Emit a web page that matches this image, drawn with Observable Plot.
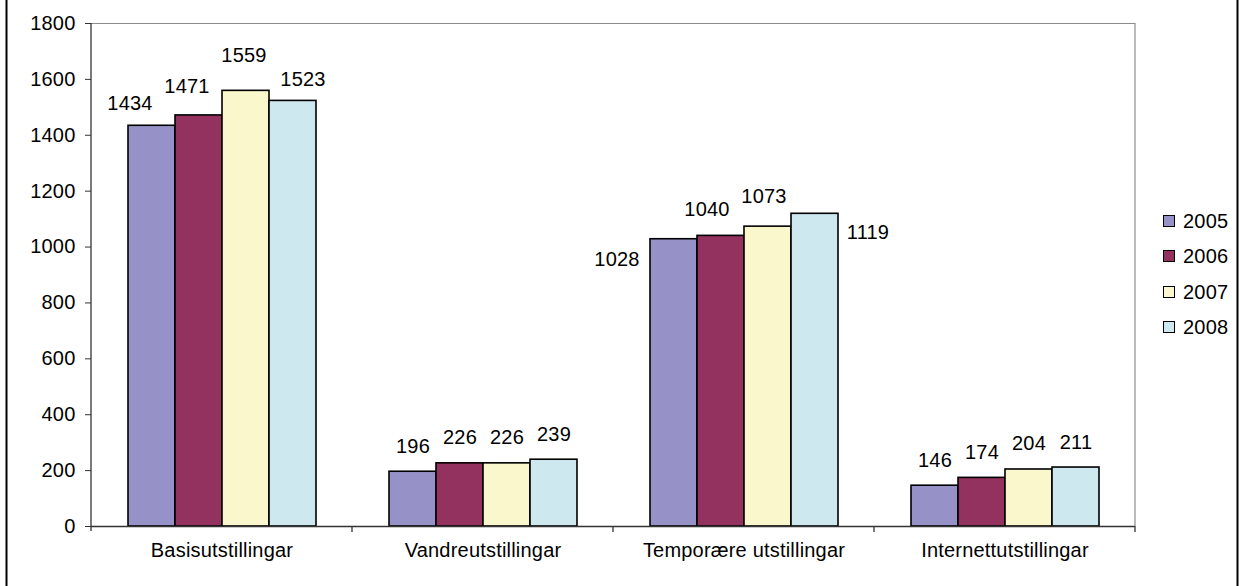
<!DOCTYPE html>
<html>
<head>
<meta charset="utf-8">
<script src="https://cdn.jsdelivr.net/npm/d3@7"></script>
<script src="https://cdn.jsdelivr.net/npm/@observablehq/plot@0.6"></script>
<style>
  html, body { margin: 0; padding: 0; background: #fff; }
  #wrap { position: relative; width: 1240px; height: 586px; font-family: "Liberation Sans", Arial, sans-serif; }
  #legend { position: absolute; left: 1163px; top: 0; }
  .li { position: absolute; left: 0; height: 24px; display: flex; align-items: center; white-space: nowrap; font-size: 20px; letter-spacing: 0.2px; color: #000; }
  .sw { width: 12px; height: 12px; box-sizing: border-box; border: 1.3px solid #000; margin-right: 8px; }
</style>
</head>
<body>
<div id="wrap"><div id="legend"></div></div>
<script>
const categories = ["Basisutstillingar", "Vandreutstillingar", "Temporære utstillingar", "Internettutstillingar"];
const years = ["2005", "2006", "2007", "2008"];
const values2005 = [1434, 196, 1028, 146];
const values2006 = [1471, 226, 1040, 174];
const values2007 = [1559, 226, 1073, 204];
const values2008 = [1523, 239, 1119, 211];
const yTicks = [0, 200, 400, 600, 800, 1000, 1200, 1400, 1600, 1800];
const yearColors = ["#9692c8", "#93325f", "#faf7cd", "#cde9ef"];

// label placement nudges [dx, dy] per category/year (null = default above bar)
const labelNudge = [
  [[-22, -16], [-12, -22], [-2, -29], [10, -15]],
  null,
  [[-57, 27], [-14, -20], [-4, -24], [53, 25]],
  null
];

const series = [values2005, values2006, values2007, values2008];
const data = categories.flatMap((c, i) => years.map((y, j) => ({category: c, year: y, value: series[j][i], ci: i, yi: j})));

const FONT = 20;
const labelMarks = data.map(d => {
  const n = labelNudge[d.ci] ? labelNudge[d.ci][d.yi] : [0, -19];
  return Plot.text([d], {fx: "category", x: "year", y: "value", text: d => String(d.value),
    lineAnchor: "bottom", dx: n[0], dy: n[1], fill: "#000", fontSize: FONT});
});

const chart = Plot.plot({
  width: 1240, height: 586,
  marginLeft: 90, marginRight: 105, marginTop: 23, marginBottom: 60,
  style: {fontFamily: "'Liberation Sans', Arial, sans-serif", fontSize: FONT + "px", color: "#000", background: "#fff", letterSpacing: "0.2px"},
  fx: {domain: categories, padding: 0, axis: null},
  x: {domain: years, paddingInner: 0, paddingOuter: 0.72, axis: null},
  y: {domain: [0, 1800], axis: null},
  color: {domain: years, range: yearColors},
  marks: [
    Plot.axisY({ticks: yTicks, tickSize: 6, tickPadding: 10, tickFormat: d => String(d), stroke: "#333", fill: "#000", fontSize: FONT, label: null}),
    Plot.ruleY([1800], {stroke: "#8c8c8c", strokeWidth: 1.2}),
    Plot.barY(data, {fx: "category", x: "year", y: "value", fill: "year", stroke: "#000", strokeWidth: 1.6}),
    Plot.ruleY([0], {stroke: "#333", strokeWidth: 1.3}),
    ...labelMarks,
    Plot.text(categories, {fx: d => d, text: d => d, frameAnchor: "bottom", dy: 30, fill: "#000", fontSize: FONT})
  ]
});

// plot-area border, category boundary ticks and outer border, from the library's scales
const svg = d3.select(chart);
const fxS = chart.scale("fx");
const yS = chart.scale("y");
const x0 = fxS.apply(categories[0]);
const xEnd = fxS.apply(categories[categories.length - 1]) + fxS.bandwidth;
const y0 = yS.apply(0), yTop = yS.apply(1800);
const g = svg.append("g");
g.append("line").attr("x1", xEnd).attr("x2", xEnd).attr("y1", yTop).attr("y2", y0).attr("stroke", "#8c8c8c").attr("stroke-width", 1.2);
g.append("line").attr("x1", x0).attr("x2", x0).attr("y1", yTop).attr("y2", y0 + 5).attr("stroke", "#333").attr("stroke-width", 1.3);
const bounds = categories.map(c => fxS.apply(c)).concat([xEnd]);
bounds.slice(1).forEach(bx => {
  g.append("line").attr("x1", bx).attr("x2", bx).attr("y1", y0).attr("y2", y0 + 6).attr("stroke", "#333").attr("stroke-width", 1.3);
});
g.append("line").attr("x1", 6.5).attr("x2", 6.5).attr("y1", 0).attr("y2", 586).attr("stroke", "#000").attr("stroke-width", 2);
g.append("line").attr("x1", 1237.5).attr("x2", 1237.5).attr("y1", 0).attr("y2", 586).attr("stroke", "#000").attr("stroke-width", 2);

document.getElementById("wrap").prepend(chart);

// legend
const legendCenters = [221, 256, 292, 327];
const leg = d3.select("#legend");
years.forEach((y, i) => {
  const item = leg.append("div").attr("class", "li").style("top", (legendCenters[i] - 12) + "px");
  item.append("div").attr("class", "sw").style("background", yearColors[i]);
  item.append("span").text(y);
});
</script>
</body>
</html>
